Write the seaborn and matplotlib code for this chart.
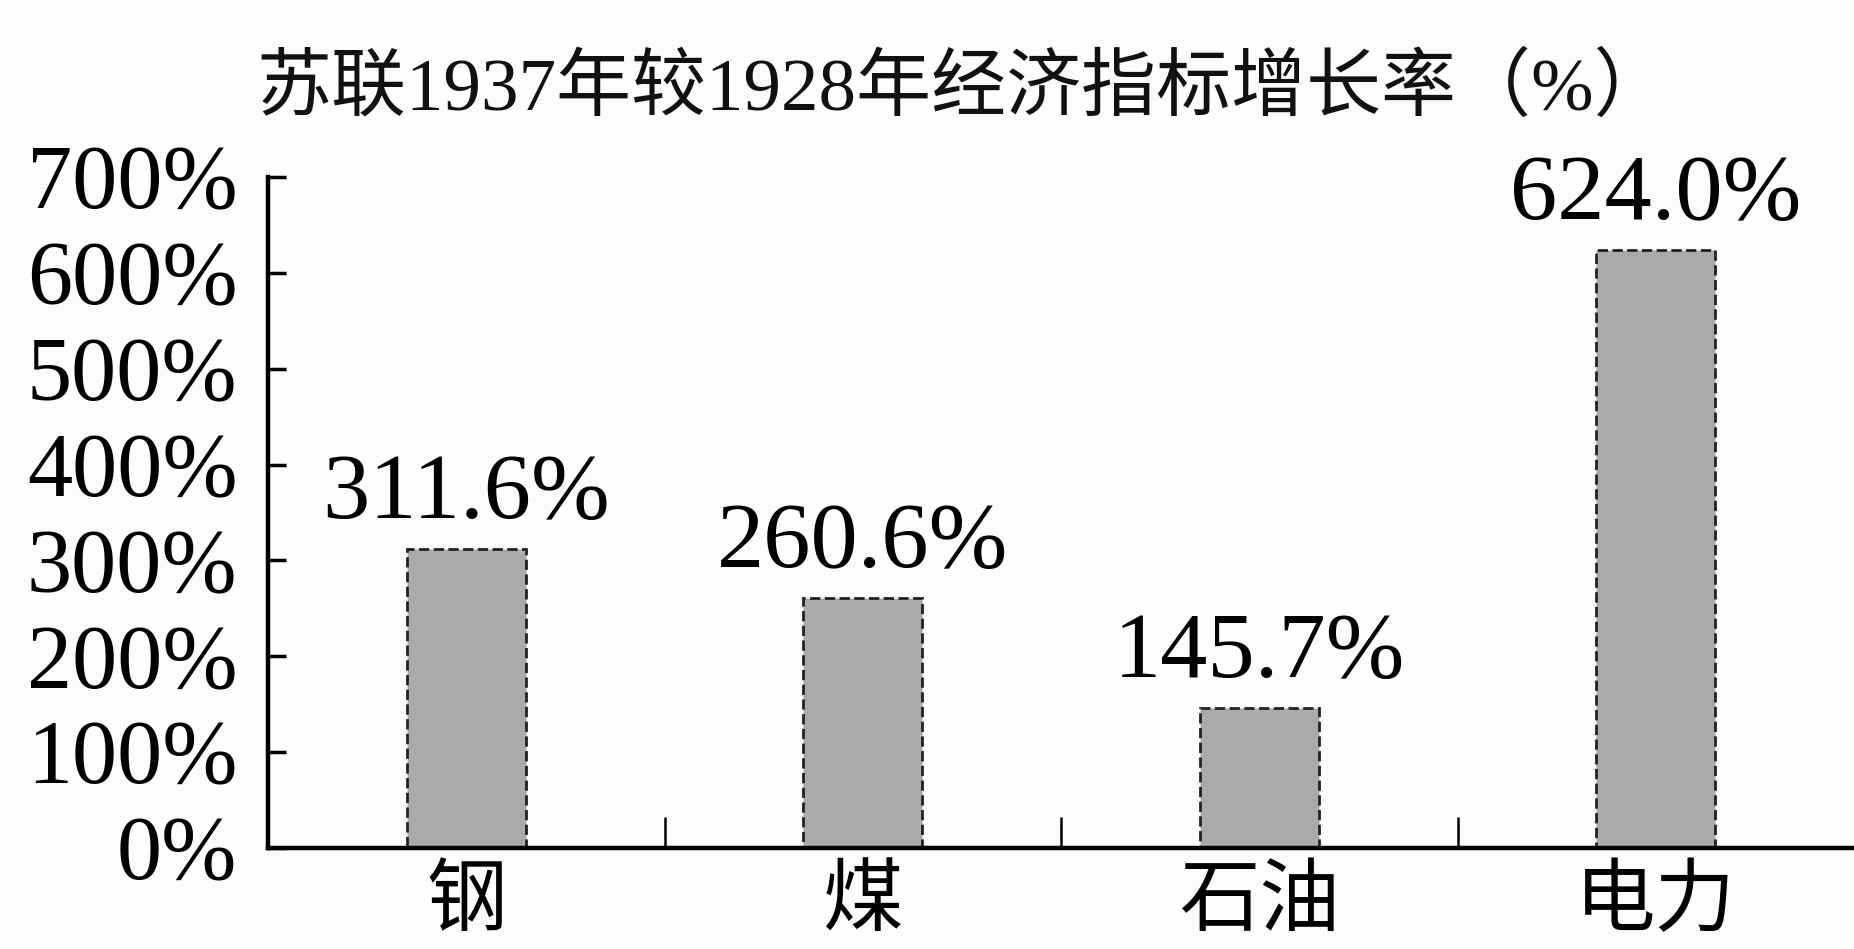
import matplotlib
matplotlib.use("Agg")
import matplotlib.pyplot as plt
import seaborn as sns
import pandas as pd

# ---- data ----
categories = ["钢", "煤", "石油", "电力"]
growth = [311.6, 260.6, 145.7, 624.0]
value_labels = ["311.6%", "260.6%", "145.7%", "624.0%"]
yticks = [0, 100, 200, 300, 400, 500, 600, 700]
ytick_labels = ["0%", "100%", "200%", "300%", "400%", "500%", "600%", "700%"]
title = "苏联1937年较1928年经济指标增长率（%）"

sns.set_theme(style="white")
plt.rcParams["font.family"] = ["Liberation Serif", "Noto Sans CJK SC", "DejaVu Sans"]

df = pd.DataFrame({"cat": categories, "val": growth})

fig = plt.figure(figsize=(18.54, 9.49), dpi=100, facecolor="#fcfcfc")
ax = fig.add_axes([268 / 1854, 1 - 848 / 949, 1 - 268 / 1854, (848 - 177) / 949])
ax.set_facecolor("#fcfcfc")

sns.barplot(data=df, x="cat", y="val", ax=ax, width=0.30, color="#aaaaaa",
            saturation=1, edgecolor="#222222", linewidth=2.0, linestyle="--")

ax.set_xlim(-0.5, 3.5)
ax.set_ylim(0, 700)
ax.set_xlabel("")
ax.set_ylabel("")

ax.set_yticks(yticks)
ax.set_yticklabels(ytick_labels, fontsize=65, family=["Liberation Serif"], color="black")
ax.tick_params(axis="y", which="major", left=True, direction="in", length=13,
               width=2.5, color="black", pad=22)

ax.set_xticks(range(len(categories)))
ax.set_xticklabels(categories, fontsize=58, family=["Noto Sans CJK SC"], color="black")
ax.tick_params(axis="x", which="major", bottom=True, length=0, pad=9)
ax.set_xticks([0.5, 1.5, 2.5], minor=True)
ax.tick_params(axis="x", which="minor", bottom=True, direction="in", length=22,
               width=1.8, color="black")

for s in ["top", "right"]:
    ax.spines[s].set_visible(False)
for s in ["left", "bottom"]:
    ax.spines[s].set_color("black")
    ax.spines[s].set_linewidth(3.2)

ax.bar_label(ax.containers[0], labels=value_labels, padding=8, fontsize=68,
             family=["Liberation Serif"], color="black")

fig.text(963 / 1854, 1 - 90 / 949, title, ha="center", va="center", fontsize=54,
         family=["Liberation Serif", "Noto Sans CJK SC"], color="#111111")

fig.savefig("out.png", dpi=100, facecolor=fig.get_facecolor())
